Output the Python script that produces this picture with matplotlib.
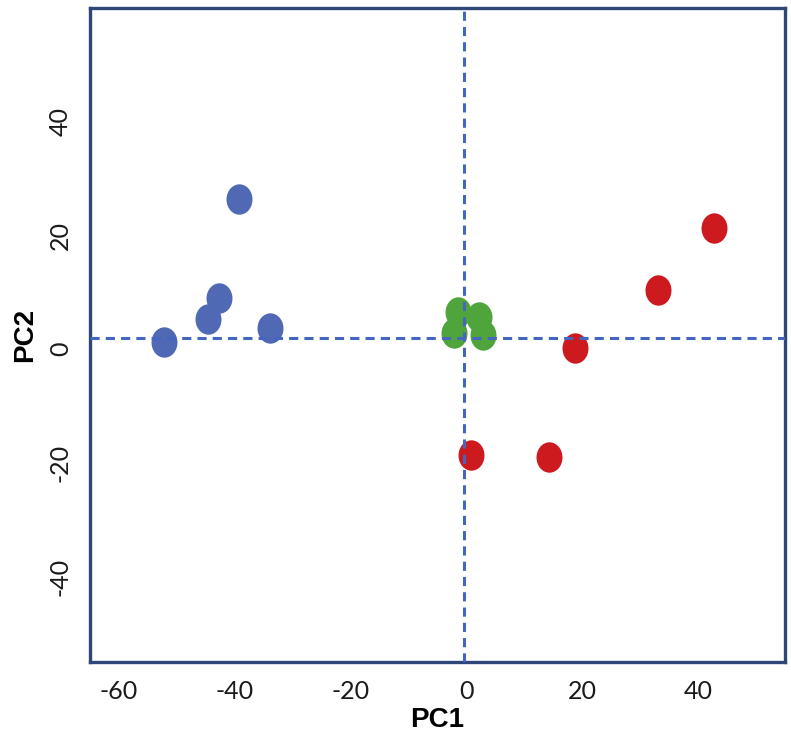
import matplotlib
matplotlib.use("Agg")
import matplotlib.pyplot as plt
from matplotlib.markers import MarkerStyle
from matplotlib.transforms import Affine2D

plt.rcParams['axes.unicode_minus'] = False

# Data
blue_x = [-52.3, -44.7, -42.7, -39.2, -34.0]
blue_y = [1.2, 5.3, 9.0, 26.5, 3.7]
green_x = [-1.4, 2.1, -2.2, 2.9]
green_y = [6.5, 5.6, 2.8, 2.5]
red_x = [0.7, 14.3, 18.7, 33.0, 42.8]
red_y = [-18.6, -19.0, 0.2, 10.5, 21.4]
ref_x = -0.4
ref_y = 2.0
xticks = [-60, -40, -20, 0, 20, 40]
yticks = [-40, -20, 0, 20, 40]

fig = plt.figure(figsize=(7.91, 7.43), dpi=100)
ax = fig.add_axes([90/791, 1 - 662/743, 695/791, 654/743])
ax.set_xlim(-65, 55)
ax.set_ylim(-55, 60)

marker = MarkerStyle('o', transform=Affine2D().scale(1.0, 1.17))
ms = 350
ax.scatter(blue_x, blue_y, s=ms, marker=marker, color='#5069B5', linewidths=0, zorder=2)
ax.scatter(green_x, green_y, s=ms, marker=marker, color='#4FA53B', linewidths=0, zorder=2)
ax.scatter(red_x, red_y, s=ms, marker=marker, color='#CC1A1F', linewidths=0, zorder=2)

dash_color = '#4466BE'
ax.axhline(ref_y, color=dash_color, lw=2.2, ls=(0, (3, 2)), zorder=3)
ax.axvline(ref_x, color=dash_color, lw=2.2, ls=(0, (3, 2)), zorder=3)

for sp in ax.spines.values():
    sp.set_color('#2F4778')
    sp.set_linewidth(2.4)

ax.set_xticks(xticks)
ax.set_yticks(yticks)
ax.tick_params(length=0)
ax.tick_params(axis='x', pad=13)
ax.tick_params(axis='y', pad=13)
for lab in ax.get_xticklabels():
    lab.set_fontfamily('Lato')
    lab.set_fontsize(18)
    lab.set_color('#1a1a1a')
for lab in ax.get_yticklabels():
    lab.set_fontfamily('Lato')
    lab.set_fontsize(18)
    lab.set_color('#1a1a1a')
    lab.set_rotation(90)
    lab.set_va('center')

ax.set_xlabel('PC1', fontsize=20, fontweight='bold', family='Liberation Sans', labelpad=3)
ax.set_ylabel('PC2', fontsize=20, fontweight='bold', family='Liberation Sans', labelpad=8)

fig.savefig('out.png', dpi=100)
